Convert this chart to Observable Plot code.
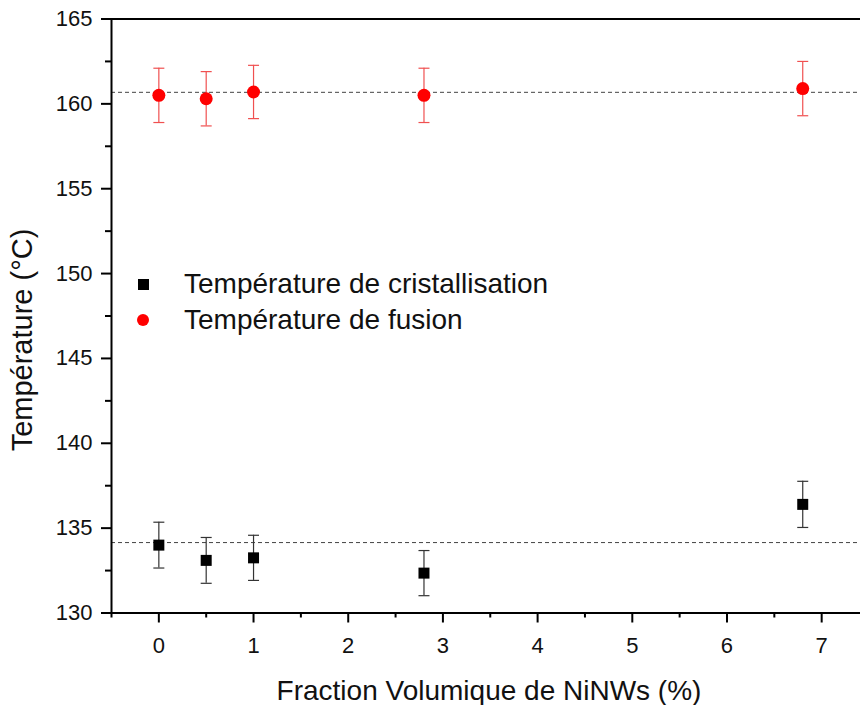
<!DOCTYPE html>
<html><head><meta charset="utf-8">
<script src="https://cdn.jsdelivr.net/npm/d3@7"></script>
<script src="https://cdn.jsdelivr.net/npm/@observablehq/plot@0.6"></script>
<style>
html,body{margin:0;padding:0;background:#fff;}
body{font-family:"Liberation Sans",Arial,sans-serif;}
#wrap{position:relative;width:860px;height:705px;overflow:hidden;}
#wrap svg{display:block;}
.ttl{position:absolute;color:#111;white-space:nowrap;line-height:1;}
#xtitle{left:0;width:978px;text-align:center;top:677px;font-size:28px;}
#ytitle{left:22px;top:340px;font-size:29px;transform:translate(-50%,-50%) rotate(-90deg);}
#legend{position:absolute;left:136px;top:266px;font-size:28px;color:#111;line-height:1;}
.lrow{display:flex;align-items:center;height:36px;}
.sym{width:14px;display:flex;justify-content:center;margin-right:34px;}
.sq{width:11px;height:11px;background:#000;}
.ci{width:12px;height:12px;border-radius:50%;background:#f00;}
</style></head><body>
<div id="wrap"></div>
<script>
// Data
const fraction = [0, 0.5, 1, 2.8, 6.8];
const crystTemp = [134.0, 133.1, 133.25, 132.35, 136.4];
const crystErr  = [1.35, 1.35, 1.33, 1.33, 1.36];
const fusionTemp = [160.5, 160.3, 160.7, 160.5, 160.9];
const fusionErr  = [1.6, 1.6, 1.57, 1.6, 1.6];
const crystMean = 134.15;
const fusionMean = 160.68;
const seriesNames = ["Température de cristallisation", "Température de fusion"];
const xMajorTicks = [0, 1, 2, 3, 4, 5, 6, 7];
const xMinorTicks = [-0.5, 0.5, 1.5, 2.5, 3.5, 4.5, 5.5, 6.5, 7.5];
const yMajorTicks = [130, 135, 140, 145, 150, 155, 160, 165];
const yMinorTicks = [132.5, 137.5, 142.5, 147.5, 152.5, 157.5, 162.5];
const xDomain = [-0.5, 7.41];
const yDomain = [130, 165];

const cryst = fraction.map((x, i) => ({x, y: crystTemp[i], lo: crystTemp[i] - crystErr[i], hi: crystTemp[i] + crystErr[i]}));
const fusion = fraction.map((x, i) => ({x, y: fusionTemp[i], lo: fusionTemp[i] - fusionErr[i], hi: fusionTemp[i] + fusionErr[i]}));

const cap = {draw(ctx) { ctx.moveTo(-5.5, 0); ctx.lineTo(5.5, 0); }};
const sq = {draw(ctx) { ctx.rect(-5.5, -5.5, 11, 11); }};

const red = "#ff0000";
const redBar = "#f05050";
const blackBar = "#333";
const tickFont = 22;

const chart = Plot.plot({
  width: 860,
  height: 705,
  marginLeft: 111,
  marginRight: 0,
  marginTop: 18.5,
  marginBottom: 92.5,
  style: {fontFamily: "'Liberation Sans', Arial, sans-serif", color: "#111", background: "#fff"},
  x: {domain: xDomain, label: null, axis: null},
  y: {domain: yDomain, label: null, axis: null},
  marks: [
    Plot.ruleY([fusionMean], {stroke: "#444", strokeWidth: 1, strokeDasharray: "4,3"}),
    Plot.ruleY([crystMean], {stroke: "#444", strokeWidth: 1, strokeDasharray: "4,3"}),
    // error bars
    Plot.ruleX(fusion, {x: "x", y1: "lo", y2: "hi", stroke: redBar, strokeWidth: 1.2}),
    Plot.dot(fusion, {x: "x", y: "lo", symbol: cap, stroke: redBar, strokeWidth: 1.2, fill: "none"}),
    Plot.dot(fusion, {x: "x", y: "hi", symbol: cap, stroke: redBar, strokeWidth: 1.2, fill: "none"}),
    Plot.ruleX(cryst, {x: "x", y1: "lo", y2: "hi", stroke: blackBar, strokeWidth: 1.2}),
    Plot.dot(cryst, {x: "x", y: "lo", symbol: cap, stroke: blackBar, strokeWidth: 1.2, fill: "none"}),
    Plot.dot(cryst, {x: "x", y: "hi", symbol: cap, stroke: blackBar, strokeWidth: 1.2, fill: "none"}),
    // markers
    Plot.dot(fusion, {x: "x", y: "y", r: 6.5, fill: red, stroke: "none"}),
    Plot.dot(cryst, {x: "x", y: "y", symbol: sq, fill: "#000", stroke: "none"}),
    // axes (ticks)
    Plot.axisY({ticks: yMajorTicks, tickSize: 10, text: null, strokeWidth: 2, stroke: "#000", label: null}),
    Plot.axisY({ticks: yMinorTicks, tickSize: 6, text: null, strokeWidth: 2, stroke: "#000", label: null}),
    Plot.axisX({ticks: xMajorTicks, tickSize: 10, text: null, strokeWidth: 2, stroke: "#000", label: null}),
    Plot.axisX({ticks: xMinorTicks, tickSize: 5, text: null, strokeWidth: 2, stroke: "#000", label: null}),
    // tick labels
    Plot.text(yMajorTicks, {x: () => xDomain[0], y: (d) => d, text: (d) => String(d), textAnchor: "end", dx: -19, fontSize: tickFont, fill: "#111", fontFamily: "'Liberation Sans', Arial, sans-serif"}),
    Plot.text(xMajorTicks, {x: (d) => d, y: () => yDomain[0], text: (d) => String(d), dy: 33, fontSize: tickFont, fill: "#111", fontFamily: "'Liberation Sans', Arial, sans-serif"}),
    // frame lines
    Plot.ruleY([yDomain[0]], {stroke: "#000", strokeWidth: 2}),
    Plot.ruleY([yDomain[1]], {stroke: "#000", strokeWidth: 2}),
    Plot.ruleX([xDomain[0]], {stroke: "#000", strokeWidth: 2})
  ]
});

const wrap = document.getElementById("wrap");
wrap.appendChild(chart);

const xt = document.createElement("div");
xt.className = "ttl"; xt.id = "xtitle"; xt.textContent = "Fraction Volumique de NiNWs (%)";
wrap.appendChild(xt);
const yt = document.createElement("div");
yt.className = "ttl"; yt.id = "ytitle"; yt.textContent = "Température (°C)";
wrap.appendChild(yt);

const lg = document.createElement("div");
lg.id = "legend";
seriesNames.forEach((name, i) => {
  const row = document.createElement("div");
  row.className = "lrow";
  const s = document.createElement("div"); s.className = "sym";
  const m = document.createElement("div"); m.className = i === 0 ? "sq" : "ci";
  s.appendChild(m);
  const t = document.createElement("span"); t.textContent = name;
  row.appendChild(s); row.appendChild(t);
  lg.appendChild(row);
});
wrap.appendChild(lg);
</script>
</body></html>
